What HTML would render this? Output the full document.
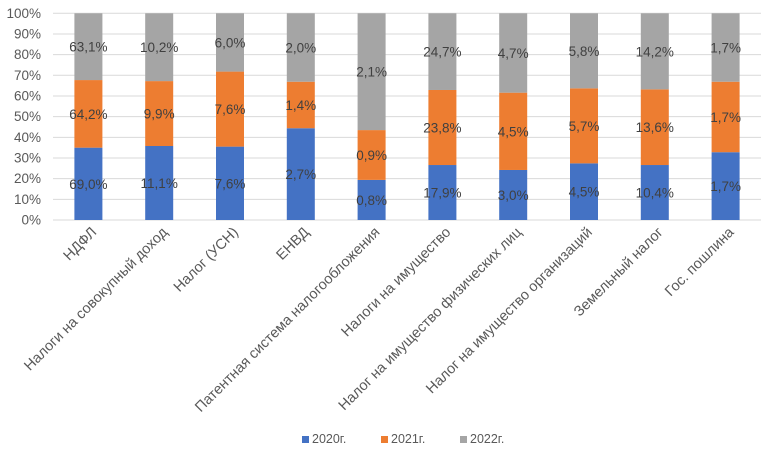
<!DOCTYPE html>
<html><head><meta charset="utf-8"><style>
body{margin:0;background:#fff}
svg{display:block;font-family:"Liberation Sans","DejaVu Sans",sans-serif}
</style></head><body>
<svg id="chart" width="764" height="454" xmlns="http://www.w3.org/2000/svg">
<g id="grid"></g>
<g id="yaxis"></g>
<g id="bars"></g>
<g id="xaxis"></g>
<g id="legend">
 <g><rect x="302" y="436" width="7" height="7" fill="#4472C4"/><text x="312" y="443" font-size="12.5" fill="#595959">2020г.</text></g>
 <g><rect x="381" y="436" width="7" height="7" fill="#ED7D31"/><text x="391" y="443" font-size="12.5" fill="#595959">2021г.</text></g>
 <g><rect x="460" y="436" width="7" height="7" fill="#A5A5A5"/><text x="470" y="443" font-size="12.5" fill="#595959">2022г.</text></g>
</g>
</svg>
<script>
const categories=["НДФЛ","Налоги на совокупный доход","Налог (УСН)","ЕНВД","Патентная система налогообложения","Налоги на имущество","Налог на имущество физических лиц","Налог на имущество организаций","Земельный налог","Гос. пошлина"];
const share2020=[35.0,35.8,35.5,44.4,19.4,26.6,24.2,27.4,26.6,32.8];
const share2021=[32.7,31.4,36.3,22.5,24.1,36.3,37.4,36.3,36.6,34.1];
const share2022=[32.3,32.8,28.2,33.1,56.5,37.1,38.4,36.3,36.8,33.1];
const labels2020=["69,0%","11,1%","7,6%","2,7%","0,8%","17,9%","3,0%","4,5%","10,4%","1,7%"];
const labels2021=["64,2%","9,9%","7,6%","1,4%","0,9%","23,8%","4,5%","5,7%","13,6%","1,7%"];
const labels2022=["63,1%","10,2%","6,0%","2,0%","2,1%","24,7%","4,7%","5,8%","14,2%","1,7%"];
const yTicks=[0,10,20,30,40,50,60,70,80,90,100];
const NS="http://www.w3.org/2000/svg";
const x0=53,x1=761,yB=220,yT=13.3,bw=28;
const band=(x1-x0)/categories.length;
const y=v=>yB-(v/100)*(yB-yT);
const xc=i=>x0+band*(i+0.5);
function mk(tag,attrs,parent){const e=document.createElementNS(NS,tag);for(const k in attrs)e.setAttribute(k,attrs[k]);parent.appendChild(e);return e;}
const grid=document.getElementById('grid'),ya=document.getElementById('yaxis'),bars=document.getElementById('bars'),xa=document.getElementById('xaxis');
yTicks.forEach(t=>{
 const l=mk('line',{x1:x0,x2:x1,y1:y(t),y2:y(t),stroke:'#D9D9D9','stroke-width':1},grid);
 
 
 const tx=mk('text',{x:41,y:y(t)+4.5,'text-anchor':'end','font-size':13.5,fill:'#595959'},ya);
 tx.textContent=t+'%';
 
 
});
const series=[{v:share2020,l:labels2020,c:'#4472C4',n:'2020'},{v:share2021,l:labels2021,c:'#ED7D31',n:'2021'},{v:share2022,l:labels2022,c:'#A5A5A5',n:'2022'}];
categories.forEach((cat,i)=>{
 const tot=share2020[i]+share2021[i]+share2022[i];
 let acc=0;
 series.forEach(s=>{
  const p=s.v[i]/tot*100;
  const top=y(acc+p),bot=y(acc);
  const r=mk('rect',{x:xc(i)-bw/2,y:top,width:bw,height:bot-top,fill:s.c},bars);
  
  
  const t=mk('text',{x:xc(i),y:(top+bot)/2+5,'text-anchor':'middle','font-size':13.5,fill:'#404040'},bars);
  t.textContent=s.l[i];
  
  
  acc+=p;
 });
 const ct=mk('text',{x:0,y:0,'text-anchor':'end','font-size':14.5,fill:'#595959',transform:`translate(${xc(i)+9},${yB+13}) rotate(-45)`},xa);
 ct.textContent=cat;
 
 
});
</script>
</body></html>
